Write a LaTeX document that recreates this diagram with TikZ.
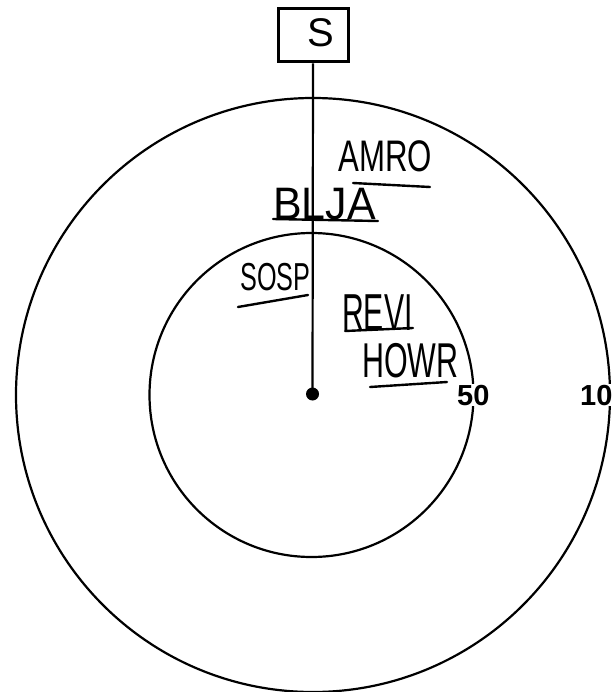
\documentclass[tikz,border=0pt]{standalone}
\usepackage{fontspec}
\setmainfont{Liberation Sans}
\begin{document}
\begin{tikzpicture}[x=1pt,y=-1pt,
  ring/.style={draw=black,line width=2.2pt},
  hand/.style={inner sep=0pt,anchor=base west,font=\fontsize{26}{26}\selectfont},
  uline/.style={draw=black,line width=2.4pt,line cap=round},
  tick/.style={inner sep=1pt,fill=white,anchor=base west,font=\fontsize{29}{29}\selectfont\bfseries}]
\useasboundingbox (0,0) rectangle (613,692);
\fill[white] (0,0) rectangle (613,692);
% rings
\draw[ring] (313,395) circle[radius=297];
\draw[ring] (311.5,395) circle[radius=162];
% station box and centre
\node[draw=black,line width=3pt,minimum width=70pt,minimum height=53pt,inner sep=0pt] (s) at (313,35.5) {};
\node[inner sep=0pt,font=\fontsize{40}{40}\selectfont] (stext) at (321,33) {S};
\node[circle,fill=black,minimum size=13pt,inner sep=0pt] (c) at (312.5,394) {};
\draw[line width=2.2pt] (s.south) -- (c.center);
% distance labels
\node[tick] (d50) at (456,405) {50};
\node[tick] (d100) at (579,405) {10};
% species labels
\node[hand] (amro) at (338,172) {\scalebox{1.2}[1.7]{AMRO}};
\draw[uline] (353,183) -- (430,187);
\node[hand] (blja) at (273,220) {\scalebox{1.65}[1.75]{BLJA}};
\draw[uline] (273,219) -- (378,221);
\node[hand] (sosp) at (240,290) {\scalebox{0.97}[1.5]{SOSP}};
\draw[uline] (238,307) -- (308,295);
\node[hand] (revi) at (342,330) {\scalebox{1.16}[2.0]{REVI}};
\draw[uline] (345,331) -- (413,328);
\node[hand] (howr) at (362,377) {\scalebox{1.17}[1.88]{HOWR}};
\draw[uline] (370,387) -- (447,382);
\end{tikzpicture}
\end{document}
